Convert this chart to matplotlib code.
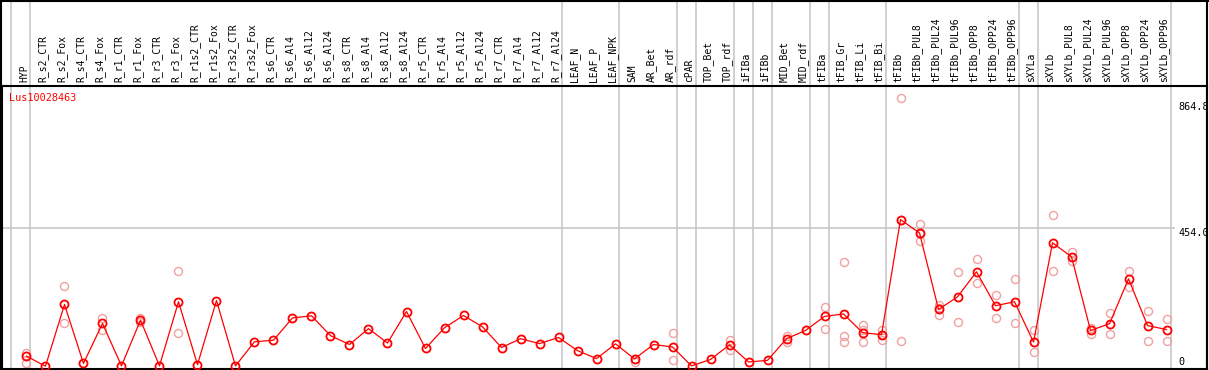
import numpy as np
import matplotlib
matplotlib.use("Agg")
import matplotlib.pyplot as plt
from matplotlib.transforms import blended_transform_factory
from matplotlib.lines import Line2D

gene = "Lus10028463"

samples = [
    "HYP", "R_s2_CTR", "R_s2_Fox", "R_s4_CTR", "R_s4_Fox", "R_r1_CTR", "R_r1_Fox",
    "R_r3_CTR", "R_r3_Fox", "R_r1s2_CTR", "R_r1s2_Fox", "R_r3s2_CTR", "R_r3s2_Fox",
    "R_s6_CTR", "R_s6_Al4", "R_s6_Al12", "R_s6_Al24", "R_s8_CTR", "R_s8_Al4",
    "R_s8_Al12", "R_s8_Al24", "R_r5_CTR", "R_r5_Al4", "R_r5_Al12", "R_r5_Al24",
    "R_r7_CTR", "R_r7_Al4", "R_r7_Al12", "R_r7_Al24", "LEAF_N", "LEAF_P", "LEAF_NPK",
    "SAM", "AR_Bet", "AR_rdf", "cPAR", "TOP_Bet", "TOP_rdf", "iFIBa", "iFIBb",
    "MID_Bet", "MID_rdf", "tFIBa", "tFIB_Gr", "tFIB_Li", "tFIB_Bi", "tFIBb",
    "tFIBb_PUL8", "tFIBb_PUL24", "tFIBb_PUL96", "tFIBb_OPP8", "tFIBb_OPP24",
    "tFIBb_OPP96", "sXYLa", "sXYLb", "sXYLb_PUL8", "sXYLb_PUL24", "sXYLb_PUL96",
    "sXYLb_OPP8", "sXYLb_OPP24", "sXYLb_OPP96",
]

means = [
    34, 1, 203, 10, 141, 2, 152, 2, 212, 6, 216, 2, 81,
    86, 159, 166, 101, 72, 124, 77, 180, 59, 127, 167, 130,
    62, 91, 75, 95, 52, 26, 74,
    25, 72, 64, 2, 23, 71, 15, 20,
    91, 118, 164, 172, 111, 104, 481,
    437, 187, 228, 310, 199, 212,
    80, 405, 359, 118, 140, 287, 134, 121,
]

# replicate values where they show apart from the mean
replicates = [
    [45, 12], [], [263, 143], [], [159, 121], [], [159, 145], [], [312, 110], [], [], [], [],
    [], [], [], [], [], [], [], [], [], [], [], [],
    [], [], [], [], [], [], [],
    [14, 25], [], [110, 20], [], [], [86, 53], [], [],
    [101, 80], [], [196, 123], [341, 101, 80], [135, 118, 80], [121, 88, 104], [879, 85, 479],
    [467, 411, 435], [200, 170, 190], [310, 146], [352, 272], [235, 160], [285, 143],
    [121, 48], [497, 314], [374, 344], [127, 107], [176, 107], [311, 261], [182, 85], [157, 85],
]

# last column of each group (gray separators)
group_ends = [-1, 0, 28, 31, 34, 35, 37, 38, 39, 41, 42, 45, 52, 53, 60]

scale_ticks = [864.8, 454.0, 0]
scale_labels = ["864.8", "454.0", "0"]

W, H = 1209, 370
fig = plt.figure(figsize=(W / 100, H / 100), dpi=100)
ax = fig.add_axes([1.5 / W, 1.5 / H, 1205.5 / W, (369 - 86) / H])

x = np.arange(len(samples))
trans = blended_transform_factory(ax.transData, fig.transFigure)

for g in group_ends:
    ax.plot([g + 0.21, g + 0.21], [1.5 / H, 1], color="#c8c8c8", lw=1.2,
            transform=trans, clip_on=False, zorder=1)

ax.hlines(454.0, -1.4, 60.44, color="#c8c8c8", lw=1.2, zorder=1)

for i, reps in enumerate(replicates):
    if reps:
        ax.plot([i] * len(reps), reps, "o", ms=5.8, mfc="none", mec="#f0a0a0",
                mew=1.0, zorder=2, clip_on=False)

ax.plot(x, means, "-", color="red", lw=0.9, zorder=3)
ax.plot(x, means, "o", ms=5.8, mfc="none", mec="red", mew=1.3, zorder=4, clip_on=False)

for i, s in enumerate(samples):
    ax.text(i - 0.13, (H - 82) / H, s, transform=trans, rotation=90, ha="center",
            va="bottom", fontsize=7, family="DejaVu Sans Mono", clip_on=False)

ax.text(-0.9, 880, gene, color="red", fontsize=7.3, family="DejaVu Sans Mono",
        ha="left", va="center")

for v, lab in zip(scale_ticks, scale_labels):
    ax.text(60.62, v, lab, fontsize=7.3, family="DejaVu Sans Mono", ha="left",
            va="bottom" if v == 0 else "top")

ax.set_xlim(-1.315, 62.13)
ax.set_ylim(-6.5, 919.8)
ax.set_xticks([])
ax.set_yticks([])
for sp in ax.spines.values():
    sp.set_linewidth(1.5)
    sp.set_color("black")

# outer frame around the label area
for xs, ys in [([0, 1], [1 - 0.75 / H, 1 - 0.75 / H]),
               ([0.75 / W, 0.75 / W], [0, 1]),
               ([1 - 1.75 / W, 1 - 1.75 / W], [0, 1])]:
    fig.add_artist(Line2D(xs, ys, color="black", lw=1.5, transform=fig.transFigure))

fig.savefig("out.png", dpi=100)
